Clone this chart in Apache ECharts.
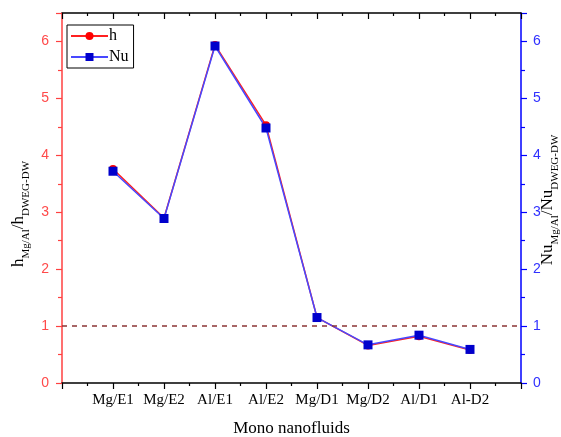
<!DOCTYPE html>
<html>
<head>
<meta charset="utf-8">
<script src="https://cdn.jsdelivr.net/npm/echarts@6/dist/echarts.min.js"></script>
<style>
  html, body { margin: 0; padding: 0; background: #fff; }
  #main { width: 561px; height: 437px; }
</style>
</head>
<body>
<div id="main"></div>
<script>
var chartDom = document.getElementById('main');
var myChart = echarts.init(chartDom);
var option;

// samples, placed at x = 1..8
const categories = ['Mg/E1', 'Mg/E2', 'Al/E1', 'Al/E2', 'Mg/D1', 'Mg/D2', 'Al/D1', 'Al-D2'];
const hRatio = [3.76, 2.9, 5.94, 4.53, 1.15, 0.66, 0.82, 0.58];
const nuRatio = [3.72, 2.89, 5.92, 4.48, 1.15, 0.67, 0.84, 0.59];
const referenceLevel = 1;

const serif = 'Liberation Serif';
const sans = 'Liberation Sans';

function toPoints(values) {
  return values.map(function (v, i) {
    return [i + 1, v];
  });
}

const subRich = {
  b: { fontFamily: serif, fontSize: 17, color: '#000', lineHeight: 24, verticalAlign: 'top' },
  s: { fontFamily: serif, fontSize: 11, color: '#000', lineHeight: 11, verticalAlign: 'top', padding: [11, 0, 0, 0] }
};

option = {
  animation: false,
  backgroundColor: '#fff',
  grid: {
    left: 62,
    right: 40,
    top: 13,
    bottom: 54,
    outerBoundsMode: 'none'
  },
  legend: {
    orient: 'vertical',
    left: 67,
    top: 25,
    padding: [3, 5, 3, 3],
    itemGap: 5,
    itemWidth: 37,
    itemHeight: 10,
    borderColor: '#000',
    borderWidth: 1,
    textStyle: { fontFamily: serif, fontSize: 16, color: '#000', padding: [0, 0, 0, -4] },
    data: ['h', 'Nu']
  },
  xAxis: [
    {
      type: 'value',
      min: 0,
      max: 9,
      interval: 1,
      name: 'Mono nanofluids',
      nameLocation: 'middle',
      nameGap: 37,
      nameTextStyle: { fontFamily: serif, fontSize: 17, color: '#000' },
      axisLine: { onZero: false, lineStyle: { color: '#000', width: 1.5 } },
      axisTick: { length: 6, lineStyle: { color: '#000', width: 1.2 } },
      minorTick: { show: true, splitNumber: 2, length: 3, lineStyle: { color: '#000', width: 1.2 } },
      axisLabel: {
        margin: 10,
        fontFamily: serif,
        fontSize: 15,
        color: '#000',
        formatter: function (v) {
          return categories[v - 1] || '';
        }
      },
      splitLine: { show: false }
    },
    {
      type: 'value',
      position: 'top',
      min: 0,
      max: 9,
      interval: 1,
      axisLine: { onZero: false, lineStyle: { color: '#000', width: 1.5 } },
      axisTick: { inside: true, length: 6, lineStyle: { color: '#000', width: 1.2 } },
      minorTick: { show: true, splitNumber: 2, length: 3, lineStyle: { color: '#000', width: 1.2 } },
      axisLabel: { show: false },
      splitLine: { show: false }
    }
  ],
  yAxis: [
    {
      type: 'value',
      position: 'left',
      min: 0,
      max: 6.5,
      interval: 1,
      axisLine: { show: true, onZero: false, lineStyle: { color: '#ff4040', width: 1.5 } },
      axisTick: { show: true, length: 6, lineStyle: { color: '#ff4040', width: 1.2 } },
      minorTick: { show: true, splitNumber: 2, length: 4, lineStyle: { color: '#ff4040', width: 1.2 } },
      axisLabel: { margin: 13, fontFamily: sans, fontSize: 14, color: '#ff4a4a', showMaxLabel: false },
      splitLine: { show: false }
    },
    {
      type: 'value',
      position: 'right',
      min: 0,
      max: 6.5,
      interval: 1,
      axisLine: { show: true, onZero: false, lineStyle: { color: '#0000ff', width: 1.5 } },
      axisTick: { show: true, length: 6, lineStyle: { color: '#0000ff', width: 1.2 } },
      minorTick: { show: true, splitNumber: 2, length: 4, lineStyle: { color: '#0000ff', width: 1.2 } },
      axisLabel: { margin: 12, fontFamily: sans, fontSize: 14, color: '#3030ff', showMaxLabel: false },
      splitLine: { show: false }
    }
  ],
  graphic: [
    {
      type: 'text',
      x: 22,
      y: 214,
      rotation: Math.PI / 2,
      style: {
        text: '{b|h}{s|Mg/Al}{b|/h}{s|DWEG-DW}',
        rich: subRich,
        align: 'center',
        verticalAlign: 'middle'
      }
    },
    {
      type: 'text',
      x: 551,
      y: 200,
      rotation: Math.PI / 2,
      style: {
        text: '{b|Nu}{s|Mg/Al}{b|/Nu}{s|DWEG-DW}',
        rich: subRich,
        align: 'center',
        verticalAlign: 'middle'
      }
    }
  ],
  series: [
    {
      name: 'h',
      type: 'line',
      xAxisIndex: 0,
      yAxisIndex: 0,
      data: toPoints(hRatio),
      symbol: 'circle',
      symbolSize: 8,
      itemStyle: { color: '#ff0000' },
      lineStyle: { color: '#ff2020', width: 1.5 },
      markLine: {
        silent: true,
        symbol: 'none',
        label: { show: false },
        lineStyle: { color: '#8b3535', type: [5, 5], width: 1.5 },
        data: [{ yAxis: referenceLevel }]
      }
    },
    {
      name: 'Nu',
      type: 'line',
      xAxisIndex: 0,
      yAxisIndex: 1,
      data: toPoints(nuRatio),
      symbol: 'rect',
      symbolSize: 9,
      itemStyle: { color: '#0000cc' },
      lineStyle: { color: '#4848ff', width: 1.5 }
    }
  ]
};

option && myChart.setOption(option);
</script>
</body>
</html>
